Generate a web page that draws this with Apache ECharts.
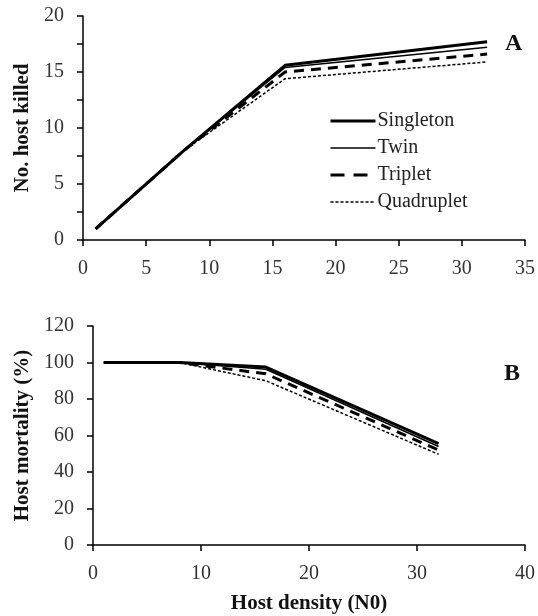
<!DOCTYPE html>
<html>
<head>
<meta charset="utf-8">
<script src="https://cdn.jsdelivr.net/npm/echarts@6/dist/echarts.min.js"></script>
<style>html,body{margin:0;padding:0;background:#fff}#c{width:538px;height:616px}</style>
</head>
<body>
<div id="c"></div>
<script>
var hostDensity = [1, 8, 16, 32];
var seriesNames = ['Singleton', 'Twin', 'Triplet', 'Quadruplet'];
var killedSingleton = [1, 8, 15.6, 17.7];
var killedTwin = [1, 8, 15.4, 17.2];
var killedTriplet = [1, 8, 15.0, 16.6];
var killedQuadruplet = [1, 8, 14.4, 15.9];
var mortSingleton = [100, 100, 97.5, 55.5];
var mortTwin = [100, 100, 96.3, 54.0];
var mortTriplet = [100, 100, 93.8, 52.0];
var mortQuadruplet = [100, 100, 90.0, 49.7];
var panelLabels = ['A', 'B'];

var killed = [killedSingleton, killedTwin, killedTriplet, killedQuadruplet];
var mort = [mortSingleton, mortTwin, mortTriplet, mortQuadruplet];

var styles = [
  {width: 3, type: 'solid', legendType: 'solid'},
  {width: 1.5, type: 'solid', legendType: 'solid'},
  {width: 3, type: [10, 7], legendType: [14, 9]},
  {width: 1.5, type: [3, 2], legendType: [3, 2]}
];

function pairs(ys) { return hostDensity.map(function (x, i) { return [x, ys[i]]; }); }

var FONT = '"Liberation Serif", "Times New Roman", serif';
var axisCommon = {
  axisLine: {show: true, onZero: false, lineStyle: {color: '#000', width: 1.5}},
  axisTick: {show: true, inside: false, length: 6, lineStyle: {color: '#000', width: 1.5}},
  splitLine: {show: false},
  axisLabel: {color: '#333', fontFamily: FONT, fontSize: 20},
  nameTextStyle: {color: '#111', fontFamily: FONT, fontSize: 21, fontWeight: 'bold'}
};
function ax(o) { return Object.assign({}, JSON.parse(JSON.stringify(axisCommon)), o); }

var series = [];
seriesNames.forEach(function (n, i) {
  series.push({name: n, type: 'line', xAxisIndex: 0, yAxisIndex: 0, data: pairs(killed[i]),
    symbol: 'none', lineStyle: {color: '#000', width: styles[i].width, type: styles[i].type}, itemStyle: {color: '#000'}, z: 10 - i});
});
seriesNames.forEach(function (n, i) {
  series.push({name: n, type: 'line', xAxisIndex: 1, yAxisIndex: 1, data: pairs(mort[i]),
    symbol: 'none', lineStyle: {color: '#000', width: styles[i].width, type: styles[i].type}, itemStyle: {color: '#000'}, z: 10 - i});
});

var legendData = seriesNames.map(function (n, i) {
  return {name: n, lineStyle: {color: '#000', width: styles[i].width, type: styles[i].legendType}, itemStyle: {opacity: 0}};
});

var chart = echarts.init(document.getElementById('c'), null, {renderer: 'canvas'});
chart.setOption({
  animation: false,
  backgroundColor: '#fff',
  grid: [
    {left: 83, top: 16, width: 443, height: 224, containLabel: false},
    {left: 93, top: 326, width: 440, height: 219, containLabel: false}
  ],
  xAxis: [
    ax({type: 'value', gridIndex: 0, min: 0, max: 35, interval: 5, axisLabel: Object.assign({}, axisCommon.axisLabel, {margin: 19})}),
    ax({type: 'value', gridIndex: 1, min: 0, max: 40, interval: 10, name: 'Host density (N0)', nameLocation: 'middle', nameGap: 48,
        axisLabel: Object.assign({}, axisCommon.axisLabel, {margin: 19})})
  ],
  yAxis: [
    ax({type: 'value', gridIndex: 0, min: 0, max: 20, interval: 5, name: 'No. host killed', nameLocation: 'middle', nameGap: 50,
        minorTick: {show: true, splitNumber: 2, length: 6, lineStyle: {color: '#000', width: 1.5}},
        axisLabel: Object.assign({}, axisCommon.axisLabel, {margin: 19})}),
    ax({type: 'value', gridIndex: 1, min: 0, max: 120, interval: 20, name: 'Host mortality (%)', nameLocation: 'middle', nameGap: 60,
        axisLabel: Object.assign({}, axisCommon.axisLabel, {margin: 19})})
  ],
  legend: {
    orient: 'vertical', left: 324, top: 106, itemWidth: 45, itemHeight: 14, itemGap: 7,
    data: legendData, selectedMode: false,
    itemStyle: {opacity: 0},
    textStyle: {color: '#222', fontFamily: FONT, fontSize: 20, padding: [0, 0, 0, -3]}
  },
  graphic: [
    {type: 'text', left: 505, top: 32, style: {text: panelLabels[0], font: 'bold 24px ' + FONT, fill: '#111'}},
    {type: 'text', left: 504, top: 362, style: {text: panelLabels[1], font: 'bold 24px ' + FONT, fill: '#111'}}
  ],
  series: series
});
</script>
</body>
</html>
